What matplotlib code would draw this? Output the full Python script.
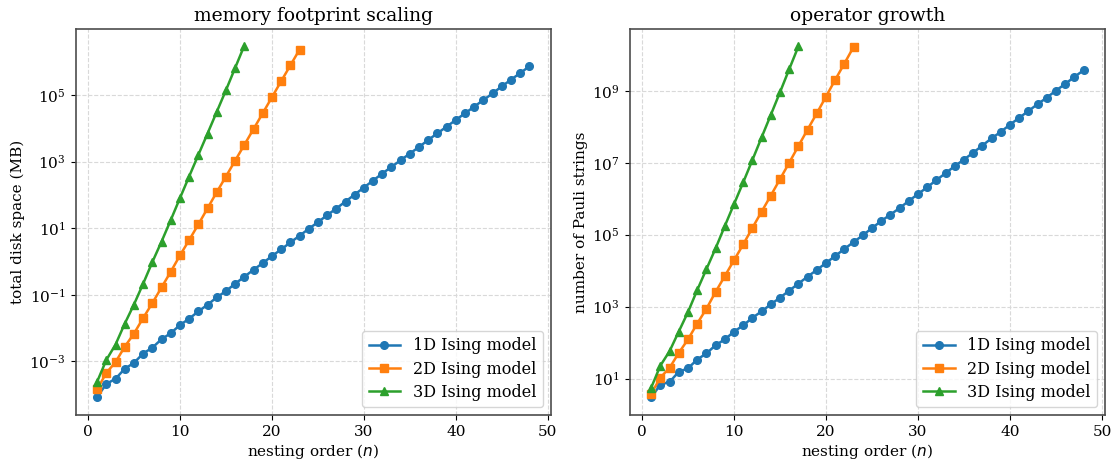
import numpy as np
import matplotlib.pyplot as plt

plt.rcParams['font.family'] = 'DejaVu Serif'
plt.rcParams['font.size'] = 11

# nesting orders
n_1d = list(range(1, 49))
n_2d = list(range(1, 24))
n_3d = list(range(1, 18))

# total disk space (MB)
mem_1d = [8.5e-5, 2.1e-4, 3.0e-4, 6.0e-4, 9.0e-4, 1.72e-3, 2.57e-3, 4.62e-3,
          7.0e-3, 1.23e-2, 1.91e-2, 3.16e-2, 5.01e-2, 8.32e-2, 0.129, 0.214,
          0.347, 0.562, 0.891, 1.45, 2.29, 3.72, 5.89, 9.55, 15.1, 24.5, 38.9,
          63.1, 102, 166, 269, 437, 692, 1100, 1740, 2750, 4470, 7080, 1.12e4,
          1.78e4, 2.82e4, 4.47e4, 7.08e4, 1.12e5, 1.82e5, 2.88e5, 4.57e5, 7.24e5]
mem_2d = [1.45e-4, 4.5e-4, 9.5e-4, 2.75e-3, 6.8e-3, 2.0e-2, 5.6e-2, 0.166,
          0.49, 1.51, 4.37, 12.9, 39.4, 120, 355, 1060, 3160, 9440, 2.82e4,
          8.51e4, 2.57e5, 7.67e5, 2.29e6]
mem_3d = [2.45e-4, 1.10e-3, 3.2e-3, 1.35e-2, 5.07e-2, 0.214, 0.955, 3.94,
          17.4, 79.4, 355, 1580, 6920, 3.09e4, 1.38e5, 6.46e5, 3.02e6]

# number of Pauli strings
ops_1d = [3.0, 6.8, 8.1, 15.5, 19.3, 34, 50, 85, 123, 202, 302, 490, 741, 1160,
          1780, 2790, 4370, 6840, 1.05e4, 1.64e4, 2.57e4, 4.03e4, 6.24e4, 9.66e4,
          1.53e5, 2.40e5, 3.63e5, 5.50e5, 8.71e5, 1.35e6, 2.09e6, 3.31e6, 5.13e6,
          8.13e6, 1.23e7, 1.91e7, 3.02e7, 4.79e7, 7.24e7, 1.15e8, 1.78e8, 2.75e8,
          4.27e8, 6.46e8, 1.02e9, 1.55e9, 2.45e9, 3.72e9]
ops_2d = [3.8, 10.7, 20, 52, 123, 339, 871, 2570, 7080, 1.95e4, 5.37e4, 1.55e5,
          4.37e5, 1.22e6, 3.51e6, 1.0e7, 2.92e7, 8.41e7, 2.37e8, 6.92e8, 2.02e9,
          5.75e9, 1.66e10]
ops_3d = [5.6, 23, 58, 204, 708, 2880, 1.10e4, 4.17e4, 1.74e5, 7.08e5, 2.85e6,
          1.19e7, 5.07e7, 2.14e8, 9.12e8, 3.98e9, 1.72e10]

labels = ['1D Ising model', '2D Ising model', '3D Ising model']

fig, (ax1, ax2) = plt.subplots(1, 2, figsize=(11.17, 4.61), dpi=100)
fig.subplots_adjust(left=0.0676, right=0.9894, bottom=0.0991, top=0.9371,
                    wspace=0.165)

panels = [
    (ax1, (mem_1d, mem_2d, mem_3d), 'memory footprint scaling',
     'total disk space (MB)', (10**-4.62, 10**6.98)),
    (ax2, (ops_1d, ops_2d, ops_3d), 'operator growth',
     'number of Pauli strings', (10**-0.02, 10**10.72)),
]
for ax, ys, title, ylabel, ylim in panels:
    for n, y, m, lab in zip((n_1d, n_2d, n_3d), ys, ('o', 's', '^'), labels):
        ax.plot(n, y, marker=m, markersize=5.5, linewidth=1.8, label=lab)
    ax.set_yscale('log')
    ax.set_ylim(*ylim)
    ax.set_xlim(-1.35, 50.35)
    ax.set_title(title, fontsize=13.5)
    ax.set_xlabel('nesting order ($n$)', labelpad=2)
    ax.set_ylabel(ylabel, labelpad=3)
    ax.set_xticks([0, 10, 20, 30, 40, 50])
    ax.grid(True, which='major', linestyle='--', color='0.85', linewidth=0.8)
    ax.legend(loc='lower right', fontsize=11.5, labelspacing=0.4)
    for s in ax.spines.values():
        s.set_color('0.3')
        s.set_linewidth(1.2)

fig.savefig('out.png', dpi=100)
